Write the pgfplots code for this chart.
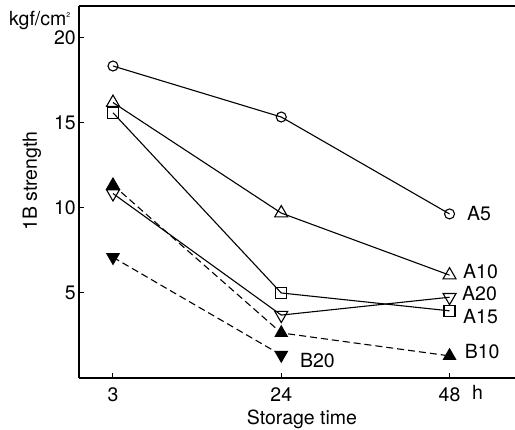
\documentclass[border=0pt]{standalone}
\usepackage{fontspec}
\setmainfont{TeX Gyre Heros}
\usepackage{pgfplots}
\pgfplotsset{compat=1.18}
\usetikzlibrary{calc}

\begin{document}
\begin{tikzpicture}[font=\fontsize{19.5}{22}\selectfont]
\begin{axis}[name=ax, scale only axis, width=436pt, height=372pt,
 xmin=-0.202, xmax=2.389, ymin=0, ymax=21.88,
 axis x line*=bottom, axis y line*=left,
 axis line style={line width=1.3pt},
 xtick={0,1,2}, xticklabels={3,24,48},
 ytick={5,10,15,20},
 tick align=inside, major tick length=5pt, tick style={line width=1pt, black},
 /pgf/number format/assume math mode=true,
 xticklabel style={inner sep=0pt, yshift=-9pt},
 yticklabel style={inner sep=0pt, xshift=-3pt},
 clip=false,
]
\draw[line width=1.3pt] (rel axis cs:0,1) -- (rel axis cs:1,1);
% A5
\addplot[black, line width=1.1pt, mark=o, mark size=5pt, mark options={fill=white, solid}]
 coordinates {(0,18.35)(1,15.35)(2,9.65)};
% A10
\addplot[black, line width=1.1pt, mark=triangle, mark size=7.5pt, mark options={fill=white, solid}]
 coordinates {(0,16.2)(1,9.7)(2,6.05)};
% A15
\addplot[black, line width=1.1pt, mark=square, mark size=5.5pt, mark options={fill=white, solid}]
 coordinates {(0,15.6)(1,5.0)(2,3.95)};
% A20
\addplot[black, line width=1.1pt, mark=triangle, mark size=7.5pt, mark options={fill=white, solid, rotate=180}]
 coordinates {(0,10.85)(1,3.7)(2,4.75)};
% B10
\addplot[black, line width=1.1pt, dash pattern=on 7pt off 4pt, mark=triangle*, mark size=7pt, mark options={fill=black, solid}]
 coordinates {(0,11.35)(1,2.65)(2,1.3)};
% B20
\addplot[black, line width=1.1pt, dash pattern=on 7pt off 4pt, mark=triangle*, mark size=7pt, mark options={fill=black, solid, rotate=180}]
 coordinates {(0,7.1)(1,1.35)};
\node[anchor=west, inner sep=0pt] at (axis cs:2.103,9.65) {A5};
\node[anchor=west, inner sep=0pt] at (axis cs:2.08,6.24) {A10};
\node[anchor=west, inner sep=0pt] at (axis cs:2.074,4.94) {A20};
\node[anchor=west, inner sep=0pt] at (axis cs:2.08,3.59) {A15};
\node[anchor=west, inner sep=0pt] at (axis cs:2.09,1.53) {B10};
\node[anchor=west, inner sep=0pt] at (axis cs:1.111,1.0) {B20};
\end{axis}
\node[anchor=base west, inner sep=0pt] at ($(ax.south west)+(393pt,-22pt)$) {h};
\node[anchor=base, inner sep=0pt] at ($(ax.south west)+(223pt,-47pt)$) {Storage time};
\node[rotate=90, inner sep=0pt] at ($(ax.south west)+(-47pt,197pt)$) {1B strength};
\node[inner sep=0pt] at ($(ax.south west)+(-39pt,358pt)$) {kgf/cm\textsuperscript{\scriptsize 2}};
\pgfresetboundingbox
\path[use as bounding box] ($(ax.south west)+(-79pt,-52pt)$) rectangle ($(ax.south west)+(436pt,378pt)$);
\end{tikzpicture}
\end{document}
